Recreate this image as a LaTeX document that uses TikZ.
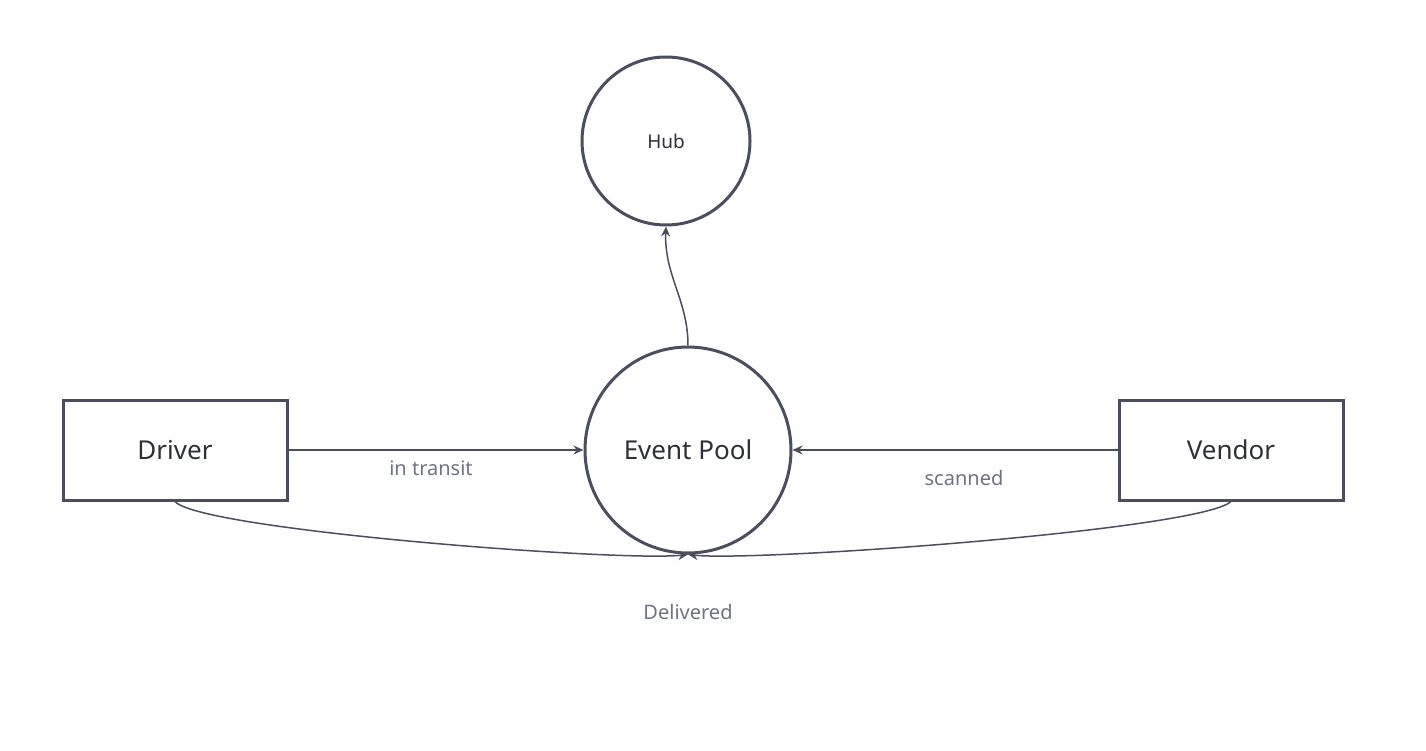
\documentclass[tikz,border=0pt]{standalone}
\usepackage{fontspec}
\setmainfont{Noto Sans}
\usetikzlibrary{arrows.meta}
\definecolor{ink}{HTML}{4A4E5E}
\definecolor{labelgray}{HTML}{6E7283}
\definecolor{textdark}{HTML}{2E3038}
\begin{document}
\begin{tikzpicture}[x=1pt,y=-1pt,
    thing/.style={draw=ink,line width=3pt,text=textdark,font=\fontsize{26}{31}\selectfont},
    flow/.style={draw=ink,line width=1.5pt,-{Stealth[length=10pt,width=9pt]}},
    tag/.style={text=labelgray,font=\fontsize{20}{24}\selectfont}]

        \useasboundingbox (0,0) rectangle (1426,751);

        \begin{scope}[every node/.style={thing}]
          \node[circle,minimum size=168pt,inner sep=0pt,font=\fontsize{19}{23}\selectfont] (hub) at (666,141) {Hub};
          \node[circle,minimum size=206pt,inner sep=0pt] (pool) at (688,450) {Event Pool};
          \node[rectangle,minimum width=224pt,minimum height=100pt] (driver) at (175,450) {Driver};
          \node[rectangle,minimum width=224pt,minimum height=100pt] (vendor) at (1231,450) {Vendor};
        \end{scope}

        \path[flow] (driver) -- (pool);
        \path[flow] (vendor) -- (pool);
        \path[flow] (pool.north) .. controls (688,300) and (664,275) .. (hub.south);
        \path[flow] (driver.south) .. controls (200,530) and (620,562) .. (pool.south);
        \path[flow] (vendor.south) .. controls (1200,530) and (756,562) .. (pool.south);

        \node[tag] (transit) at (431,468) {in transit};
        \node[tag] (scanned) at (964,478) {scanned};
        \node[tag] (delivered) at (688,612) {Delivered};

      \end{tikzpicture}
\end{document}
